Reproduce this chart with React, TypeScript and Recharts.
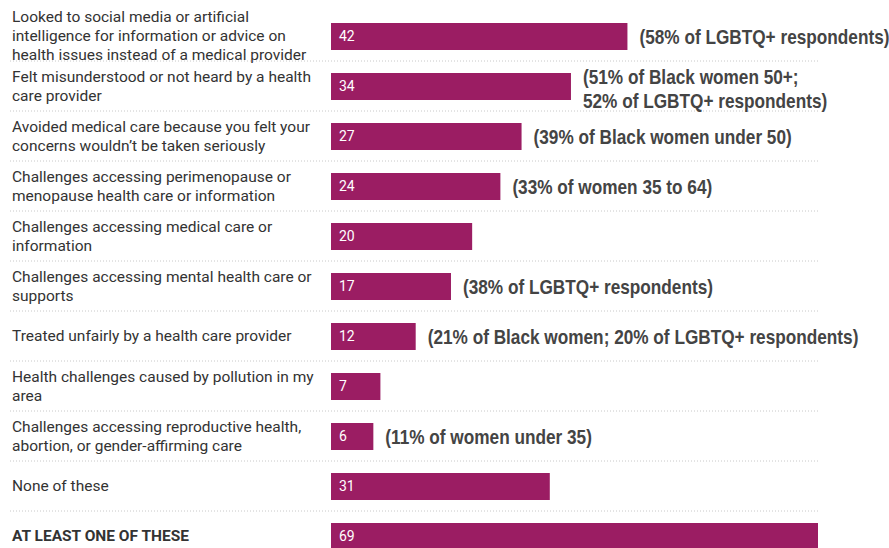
import { BarChart, Bar, XAxis, YAxis, LabelList } from 'recharts';

const categories = [
  'Looked to social media or artificial\nintelligence for information or advice on\nhealth issues instead of a medical provider',
  'Felt misunderstood or not heard by a health\ncare provider',
  'Avoided medical care because you felt your\nconcerns wouldn\u2019t be taken seriously',
  'Challenges accessing perimenopause or\nmenopause health care or information',
  'Challenges accessing medical care or\ninformation',
  'Challenges accessing mental health care or\nsupports',
  'Treated unfairly by a health care provider',
  'Health challenges caused by pollution in my\narea',
  'Challenges accessing reproductive health,\nabortion, or gender-affirming care',
  'None of these',
  'AT LEAST ONE OF THESE',
];

const values = [42, 34, 27, 24, 20, 17, 12, 7, 6, 31, 69];

const notes = [
  '(58% of LGBTQ+ respondents)',
  '(51% of Black women 50+;\n52% of LGBTQ+ respondents)',
  '(39% of Black women under 50)',
  '(33% of women 35 to 64)',
  '',
  '(38% of LGBTQ+ respondents)',
  '(21% of Black women; 20% of LGBTQ+ respondents)',
  '',
  '(11% of women under 35)',
  '',
  '',
];

const BOLD_ROW = 'AT LEAST ONE OF THESE';
const BAR_COLOR = '#9B1D63';

const W = 889;
const H = 563;
const MARGIN = { top: 11, right: 71, bottom: 2, left: 0 };
const AXIS_W = 331;
const BAND = (H - MARGIN.top - MARGIN.bottom) / categories.length;
// Arial Narrow is Arial squeezed to 82%
const NARROW = 0.82;

const data = categories.map((c, i) => ({ name: c, value: values[i], note: notes[i] }));

function CategoryTick(props: any) {
  const { y, payload, index } = props;
  const lines = String(payload.value).split('\n');
  const lh = 19;
  const startY = y - ((lines.length - 1) * lh) / 2;
  const bold = payload.value === BOLD_ROW;
  return (
    <g>
      <text
        x={12}
        y={startY}
        textAnchor="start"
        dominantBaseline="central"
        fontFamily="Roboto, sans-serif"
        fontSize={15.5}
        fontWeight={bold ? 700 : 400}
        fill="#333"
      >
        {lines.map((l, i) => (
          <tspan key={i} x={12} dy={i === 0 ? 0 : lh}>
            {l}
          </tspan>
        ))}
      </text>
      {index < categories.length - 1 && (
        <line
          x1={10}
          x2={W - MARGIN.right}
          y1={y + BAND / 2}
          y2={y + BAND / 2}
          stroke="#c8c8c8"
          strokeDasharray="1 2"
        />
      )}
    </g>
  );
}

function NoteLabel(props: any) {
  const { x, y, width, height, index } = props;
  const note = notes[index];
  if (!note) return null;
  const lines = note.split('\n');
  const lh = 24;
  const cy = y + height / 2 + (lines.length > 1 ? 2 : 0);
  const startY = cy - ((lines.length - 1) * lh) / 2;
  const tx = x + width + 12;
  return (
    <g transform={`translate(${tx},0) scale(${NARROW},1)`}>
      <text
        x={0}
        y={startY}
        dominantBaseline="central"
        fontFamily="'Liberation Sans', Arial, sans-serif"
        fontWeight={700}
        fontSize={21}
        fill="#444"
      >
        {lines.map((l: string, i: number) => (
          <tspan key={i} x={0} dy={i === 0 ? 0 : lh}>
            {l}
          </tspan>
        ))}
      </text>
    </g>
  );
}

export default function App() {
  return (
    <div
      style={{
        position: 'absolute',
        left: 0,
        top: 0,
        width: W,
        height: 548,
        overflow: 'hidden',
        background: '#fff',
      }}
    >
      <BarChart width={W} height={H} data={data} layout="vertical" margin={MARGIN} barCategoryGap={0}>
        <XAxis type="number" domain={[0, 69]} hide />
        <YAxis
          type="category"
          dataKey="name"
          width={AXIS_W}
          axisLine={false}
          tickLine={false}
          interval={0}
          tick={<CategoryTick />}
        />
        <Bar dataKey="value" fill={BAR_COLOR} barSize={27} isAnimationActive={false}>
          <LabelList
            dataKey="value"
            position="insideLeft"
            offset={8}
            fill="#fff"
            fontSize={14}
            fontFamily="Roboto, sans-serif"
          />
          <LabelList dataKey="note" content={<NoteLabel />} />
        </Bar>
      </BarChart>
    </div>
  );
}
